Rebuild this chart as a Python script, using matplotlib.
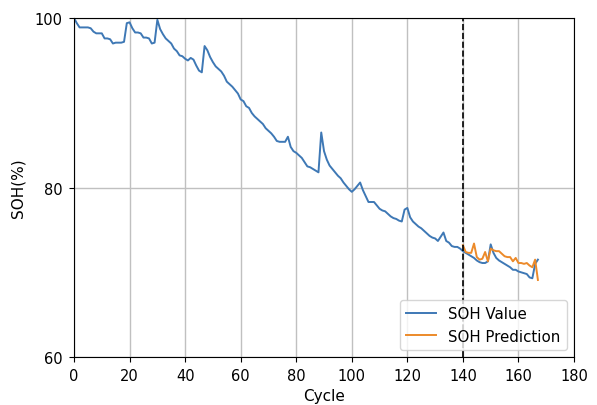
import numpy as np
import matplotlib
matplotlib.use("Agg")
import matplotlib.pyplot as plt

# Measured state of health per cycle (cycles 0..167)
soh_value = [
    100.0, 99.4, 98.9, 98.9, 98.9, 98.9, 98.8, 98.4, 98.2, 98.2,
    98.2, 97.6, 97.6, 97.5, 97.0, 97.1, 97.1, 97.1, 97.2, 99.4,
    99.5, 98.8, 98.3, 98.3, 98.2, 97.7, 97.7, 97.6, 97.0, 97.1,
    99.8, 98.7, 98.1, 97.6, 97.3, 97.0, 96.4, 96.1, 95.6, 95.5,
    95.2, 95.0, 95.3, 95.1, 94.4, 93.8, 93.6, 96.7, 96.2, 95.4,
    94.8, 94.3, 94.0, 93.7, 93.2, 92.5, 92.2, 91.9, 91.5, 91.1,
    90.4, 90.2, 89.6, 89.4, 88.8, 88.4, 88.1, 87.8, 87.5, 87.0,
    86.7, 86.4, 86.0, 85.5, 85.4, 85.4, 85.4, 86.0, 84.8, 84.3,
    84.1, 83.8, 83.5, 83.0, 82.5, 82.4, 82.2, 82.0, 81.8, 86.5,
    84.3, 83.3, 82.6, 82.2, 81.8, 81.4, 81.1, 80.6, 80.2, 79.8,
    79.5, 79.8, 80.2, 80.6, 79.7, 79.0, 78.3, 78.3, 78.3, 77.9,
    77.5, 77.3, 77.2, 76.9, 76.6, 76.4, 76.3, 76.1, 76.0, 77.4,
    77.6, 76.5, 76.0, 75.7, 75.4, 75.2, 74.9, 74.6, 74.3, 74.1,
    74.0, 73.7, 74.2, 74.7, 73.7, 73.5, 73.1, 73.0, 73.0, 72.8,
    72.5, 72.3, 72.1, 71.9, 71.7, 71.4, 71.2, 71.1, 71.1, 71.3,
    73.3, 72.3, 71.7, 71.4, 71.2, 71.0, 70.8, 70.6, 70.3, 70.3,
    70.1, 70.0, 69.9, 69.8, 69.4, 69.3, 71.0, 71.5,
]
cycles = list(range(len(soh_value)))

# Predicted state of health from the split point onward
pred_start = 140
soh_pred = [
    73.2, 72.4, 72.3, 72.3, 73.4, 71.8, 71.5, 71.6, 72.4, 71.3,
    72.8, 72.6, 72.5, 72.5, 72.2, 71.9, 71.8, 71.8, 71.3, 71.7,
    71.1, 71.1, 71.0, 71.1, 70.8, 70.6, 71.5, 69.1,
]
pred_cycles = list(range(pred_start, pred_start + len(soh_pred)))

x_ticks = [0, 20, 40, 60, 80, 100, 120, 140, 160, 180]
y_ticks = [60, 80, 100]

fig = plt.figure(figsize=(5.97, 4.06), dpi=100)
ax = fig.add_axes([0.124, 0.118, 0.8375, 0.835])

ax.plot(cycles, soh_value, color="#3e78b5", lw=1.4, label="SOH Value")
ax.plot(pred_cycles, soh_pred, color="#ec8a2a", lw=1.4, label="SOH Prediction")
ax.axvline(pred_start, color="black", ls="--", lw=1.2)

ax.set_xlim(0, 180)
ax.set_ylim(60, 100)
ax.set_xticks(x_ticks)
ax.set_yticks(y_ticks)
ax.tick_params(labelsize=10.5, pad=4.5)
ax.grid(True, color="#c0c0c0", lw=1.0)
ax.set_axisbelow(True)
ax.set_xlabel("Cycle", fontsize=11, labelpad=3.5)
ax.set_ylabel("SOH(%)", fontsize=11, labelpad=7)
ax.legend(loc="lower right", fontsize=10.8)

fig.savefig("out.png", dpi=100)
